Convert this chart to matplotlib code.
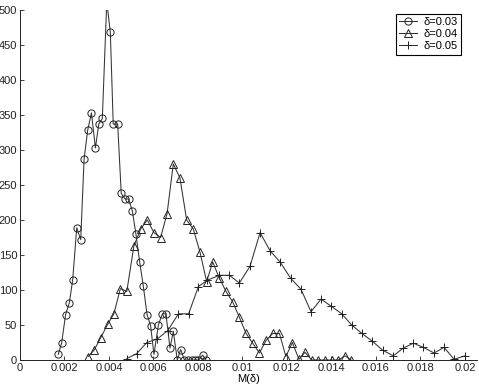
import matplotlib
matplotlib.use('Agg')
from matplotlib import pyplot as plt

plt.rcParams['font.family'] = ['Liberation Sans', 'DejaVu Sans']

# serie delta = 0.03 (circulos)
m_03 = [0.00172, 0.00187, 0.00205, 0.00222, 0.00237, 0.00255, 0.00273, 0.00288,
        0.00304, 0.00321, 0.00339, 0.00354, 0.00370, 0.00390, 0.00406, 0.00419,
        0.00439, 0.00455, 0.00472, 0.00488, 0.00505, 0.00521, 0.00538, 0.00554,
        0.00571, 0.00587, 0.00602, 0.00622, 0.00640, 0.00656, 0.00674, 0.00689,
        0.00707, 0.00722, 0.00739, 0.00757, 0.00772, 0.00787, 0.00802, 0.00821,
        0.00836]
n_03 = [8, 24, 65, 82, 115, 189, 172, 287,
        328, 353, 303, 337, 345, 512, 468, 337,
        337, 238, 230, 230, 213, 180, 140, 106,
        65, 49, 8, 50, 66, 66, 17, 41,
        0, 15, 0, 0, 0, 0, 0, 7,
        0]

# serie delta = 0.04 (triangulos)
m_04 = [0.00307, 0.00333, 0.00363, 0.00394, 0.00422, 0.00451, 0.00480, 0.00512,
        0.00542, 0.00572, 0.00602, 0.00632, 0.00661, 0.00689, 0.00719, 0.00749,
        0.00779, 0.00809, 0.00839, 0.00866, 0.00896, 0.00926, 0.00956, 0.00986,
        0.01016, 0.01046, 0.01076, 0.01106, 0.01136, 0.01166, 0.01195, 0.01224,
        0.01254, 0.01281, 0.01311, 0.01341, 0.01371, 0.01401, 0.01431, 0.01461,
        0.01488]
n_04 = [5, 14, 32, 51, 66, 102, 98, 163,
        187, 200, 182, 175, 209, 280, 260, 200,
        187, 154, 112, 140, 117, 98, 83, 61,
        38, 24, 10, 28, 38, 38, 5, 25,
        1, 11, 0, 0, 0, 0, 0, 6,
        0]

# serie delta = 0.05 (cruces)
m_05 = [0.00480, 0.00524, 0.00570, 0.00617, 0.00664, 0.00712, 0.00758, 0.00802,
        0.00842, 0.00896, 0.00941, 0.00986, 0.01034, 0.01079, 0.01124, 0.01169,
        0.01216, 0.01263, 0.01308, 0.01353, 0.01398, 0.01446, 0.01491, 0.01536,
        0.01583, 0.01630, 0.01678, 0.01723, 0.01768, 0.01813, 0.01861, 0.01906,
        0.01951, 0.02000]
n_05 = [2, 9, 25, 30, 42, 66, 66, 105,
        114, 121, 121, 110, 134, 182, 156, 140,
        117, 101, 69, 87, 77, 66, 50, 38,
        27, 14, 6, 17, 24, 18, 10, 18,
        1, 6]

xticks = [0, 0.002, 0.004, 0.006, 0.008, 0.01, 0.012, 0.014, 0.016, 0.018, 0.02]
xtick_labels = ['0', '0.002', '0.004', '0.006', '0.008', '0.01', '0.012',
                '0.014', '0.016', '0.018', '0.02']
yticks = [0, 50, 100, 150, 200, 250, 300, 350, 400, 450, 500]

fig = plt.figure(figsize=(4.79, 3.88), dpi=100)
ax = fig.add_axes([20 / 479, 28 / 388, 457 / 479, 350 / 388])

estilo = dict(color='#333333', lw=0.75, mfc='none', mec='#222222', mew=0.7)
ax.plot(m_03, n_03, marker='o', ms=5.2, label='δ=0.03', **estilo)
ax.plot(m_04, n_04, marker='^', ms=5.2, label='δ=0.04', **estilo)
ax.plot(m_05, n_05, marker='+', ms=6, label='δ=0.05', **estilo)

ax.set_xlim(0, 0.02054)
ax.set_ylim(0, 500)
ax.set_xticks(xticks)
ax.set_xticklabels(xtick_labels)
ax.set_yticks(yticks)
ax.tick_params(direction='in', length=3, width=0.6, labelsize=8, pad=2, colors='#222222')
ax.spines['top'].set_visible(False)
ax.spines['right'].set_visible(False)
for s in ('left', 'bottom'):
    ax.spines[s].set_linewidth(0.7)
    ax.spines[s].set_color('#222222')
ax.set_xlabel('M(δ)', fontsize=8, labelpad=1)

leg = ax.legend(loc='upper right', bbox_to_anchor=(0.966, 0.99), fontsize=8,
                fancybox=False, framealpha=1, edgecolor='black', borderpad=0.3,
                handlelength=1.6, handletextpad=0.6, labelspacing=0.2, borderaxespad=0)
leg.get_frame().set_linewidth(0.8)

fig.savefig('out.png', dpi=100)
